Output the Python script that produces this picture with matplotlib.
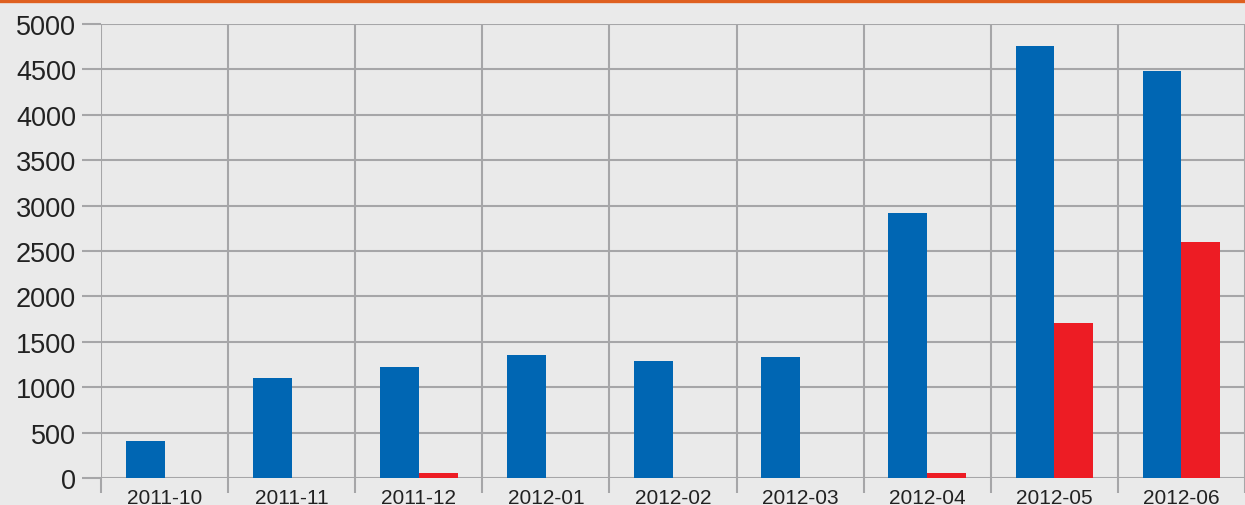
import matplotlib
matplotlib.use("Agg")
import matplotlib.pyplot as plt
import numpy as np

months = ['2011-10', '2011-11', '2011-12', '2012-01', '2012-02',
          '2012-03', '2012-04', '2012-05', '2012-06']
blue_vals = [410, 1100, 1225, 1355, 1290, 1335, 2920, 4760, 4480]
red_vals = [0, 0, 60, 0, 0, 0, 60, 1710, 2600]
y_ticks = [0, 500, 1000, 1500, 2000, 2500, 3000, 3500, 4000, 4500, 5000]

bg = '#EAEAEA'
grid_c = '#A6A6A8'
plt.rcParams['font.family'] = ['Liberation Sans', 'DejaVu Sans']

W, H = 1245, 506
fig = plt.figure(figsize=(W / 100, H / 100), dpi=100, facecolor=bg)
# axes in pixel coords: left 101, top 25, bottom 479, right edge of figure
ax = fig.add_axes([101 / W, (H - 479) / H, (W - 101) / W, 454 / H])
ax.set_facecolor(bg)

x = np.arange(len(months))
bw = 0.305
ax.bar(x - bw / 2, blue_vals, width=bw, color='#0066B3', zorder=3)
ax.bar(x + bw / 2, red_vals, width=bw, color='#ED1C24', zorder=3)

ax.set_xlim(-0.5, -0.5 + (W - 101) / 127.75)
ax.set_ylim(0, 5000)

ax.set_yticks(y_ticks)
ax.set_xticks(x)
ax.set_xticklabels(months)
ax.set_xticks(np.arange(len(months) + 1) - 0.5, minor=True)

ax.grid(axis='y', which='major', color=grid_c, linewidth=1.5, zorder=0)
ax.grid(axis='x', which='minor', color=grid_c, linewidth=1.5, zorder=0)
ax.tick_params(axis='y', length=14, width=1.5, color=grid_c, pad=4,
               labelsize=19.5, labelcolor='#222222')
ax.tick_params(axis='x', which='major', length=0, pad=7,
               labelsize=15, labelcolor='#222222')
ax.tick_params(axis='x', which='minor', length=11, width=1.5, color=grid_c)

for s in ax.spines.values():
    s.set_visible(False)

# orange rule along the top edge
fig.add_artist(plt.Line2D([0, 1], [1 - 1.5 / H, 1 - 1.5 / H],
                          transform=fig.transFigure, color='#DF6020',
                          linewidth=2.4))

fig.savefig('out.png', dpi=100, facecolor=bg)
